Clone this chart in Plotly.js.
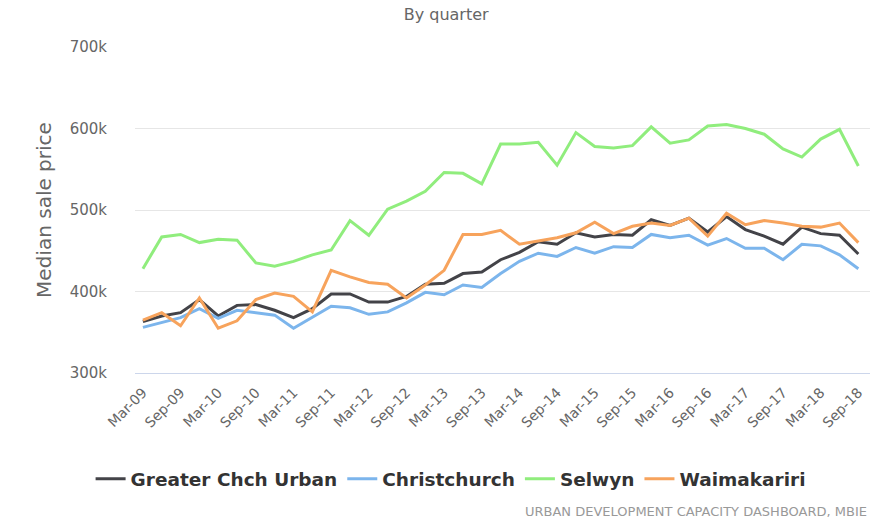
<!DOCTYPE html>
<html>
<head>
<meta charset="utf-8">
<script src="https://cdn.plot.ly/plotly-3.0.1.min.js"></script>
<style>html,body{margin:0;padding:0;background:#fff;}#chart{width:887px;height:522px;}</style>
</head>
<body>
<div id="chart"></div>
<script>
const quarters = ["Mar-09","Jun-09","Sep-09","Dec-09","Mar-10","Jun-10","Sep-10","Dec-10","Mar-11","Jun-11","Sep-11","Dec-11","Mar-12","Jun-12","Sep-12","Dec-12","Mar-13","Jun-13","Sep-13","Dec-13","Mar-14","Jun-14","Sep-14","Dec-14","Mar-15","Jun-15","Sep-15","Dec-15","Mar-16","Jun-16","Sep-16","Dec-16","Mar-17","Jun-17","Sep-17","Dec-17","Mar-18","Jun-18","Sep-18"];
const tickLabels = ["Mar-09","Sep-09","Mar-10","Sep-10","Mar-11","Sep-11","Mar-12","Sep-12","Mar-13","Sep-13","Mar-14","Sep-14","Mar-15","Sep-15","Mar-16","Sep-16","Mar-17","Sep-17","Mar-18","Sep-18"];
const greaterChch = [363000,370000,374000,390000,370000,383000,384000,377000,368000,379000,397000,397000,387000,387000,394000,409000,410000,422000,424000,439000,448000,461000,458000,472000,467000,470000,469000,488000,481000,490000,473000,492000,476000,468000,458000,479000,471000,469000,446000];
const christchurch = [356000,362000,368000,379000,367000,377000,374000,371000,355000,369000,382000,380000,372000,375000,386000,399000,396000,408000,405000,422000,437000,447000,443000,454000,447000,455000,454000,470000,466000,469000,457000,465000,453000,453000,439000,458000,456000,445000,428000];
const selwyn = [428000,467000,470000,460000,464000,463000,435000,431000,437000,445000,451000,487000,469000,501000,511000,523000,546000,545000,532000,581000,581000,583000,555000,595000,578000,576000,579000,602000,582000,586000,603000,605000,600000,593000,575000,565000,587000,599000,554000];
const waimakariri = [365000,374000,358000,392000,355000,364000,390000,398000,394000,375000,426000,418000,411000,409000,392000,408000,426000,470000,470000,475000,458000,462000,466000,472000,485000,471000,480000,484000,481000,490000,468000,496000,482000,487000,484000,480000,479000,484000,460000];
const seriesNames = ["Greater Chch Urban","Christchurch","Selwyn","Waimakariri"];
const seriesData = [greaterChch, christchurch, selwyn, waimakariri];
const seriesColors = ["#434348","#7cb5ec","#90ed7d","#f7a35c"];

const FONT = '"DejaVu Sans", sans-serif';

const traces = seriesNames.map((n, k) => ({
  type: 'scatter', mode: 'lines', name: n,
  x: quarters, y: seriesData[k],
  line: {color: seriesColors[k], width: 3},
  hoverinfo: 'x+y+name'
}));

const layout = {
  width: 887, height: 522,
  margin: {l: 135, r: 17, t: 47, b: 149},
  paper_bgcolor: '#fff', plot_bgcolor: '#fff',
  font: {family: FONT, color: '#666'},
  title: {text: 'By quarter', x: 0.503, xref: 'container', y: 0.973, yref: 'container', yanchor: 'middle',
          font: {family: FONT, size: 16, color: '#666'}},
  xaxis: {
    type: 'category', categoryorder: 'array', categoryarray: quarters,
    range: [-0.42, 38.62],
    tickvals: tickLabels, ticktext: tickLabels,
    tickangle: -45, tickfont: {family: FONT, size: 14, color: '#666'},
    ticklabelstandoff: 5,
    showgrid: false, zeroline: false,
    showline: true, linecolor: '#ccd6eb', linewidth: 1,
    ticks: '', fixedrange: true
  },
  yaxis: {
    range: [300000, 700000],
    tickvals: [300000,400000,500000,600000,700000],
    ticktext: ['300k','400k','500k','600k','700k'],
    tickfont: {family: FONT, size: 15, color: '#666'},
    showgrid: true, gridcolor: '#e6e6e6', gridwidth: 1,
    zeroline: false, showline: false, ticks: '',
    ticklabelstandoff: 27,
    title: {text: 'Median sale price', font: {family: FONT, size: 20, color: '#666'}, standoff: 12},
    fixedrange: true
  },
  showlegend: true,
  legend: {
    orientation: 'h', xref: 'container', yref: 'container',
    x: 0.508, xanchor: 'center', y: 0.082, yanchor: 'middle',
    font: {family: FONT, size: 18.5, color: '#333', weight: 'bold'},
    itemwidth: 30, tracegroupgap: 0
  },
  annotations: [{
    text: 'URBAN DEVELOPMENT CAPACITY DASHBOARD, MBIE',
    xref: 'paper', yref: 'paper', x: 0.998, y: -0.455,
    xanchor: 'right', yanchor: 'bottom', showarrow: false,
    font: {family: FONT, size: 13, color: '#999'}
  }]
};

Plotly.newPlot('chart', traces, layout, {displayModeBar: false, staticPlot: true});
</script>
</body>
</html>
